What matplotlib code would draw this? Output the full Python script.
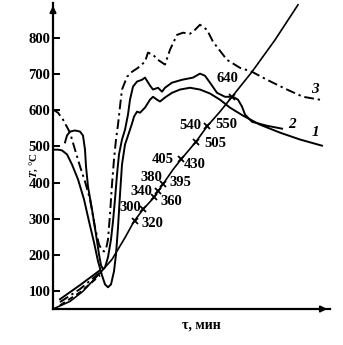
import matplotlib
matplotlib.use("Agg")
import matplotlib.pyplot as plt
import numpy as np

plt.rcParams['font.family'] = ['Liberation Serif', 'DejaVu Serif']
plt.rcParams['font.weight'] = 'bold'
plt.rcParams['mathtext.fontset'] = 'stix'

# curve 1 (solid, starts ~490, deep dip)
t1 = [0, 5, 9, 14, 19, 25, 31, 36, 41, 45, 49, 52, 55, 58, 61, 63, 65, 67, 69, 72, 76, 79,
      81, 84, 87, 92, 97, 100, 104, 107, 112, 119, 127, 137, 147, 157, 167, 177, 190, 207,
      227, 247, 269]
T1 = [491, 491, 489, 478, 450, 409, 354, 293, 235, 183, 144, 119, 111, 119, 155, 202, 276,
      367, 450, 505, 538, 563, 582, 596, 593, 607, 629, 637, 629, 624, 635, 648, 657, 662,
      657, 646, 629, 607, 585, 560, 538, 519, 502]

# curve 2 (solid, hump at start)
t2 = [12, 14, 17, 22, 27, 30, 32, 33, 35, 39, 43, 46, 48, 50, 52, 55, 58, 60, 62, 64, 66,
      69, 72, 75, 77, 80, 84, 89, 92, 97, 100, 105, 109, 112, 119, 129, 140, 147, 152, 157,
      164, 172, 180, 185, 189, 192, 199, 214, 229]
T2 = [511, 530, 541, 544, 541, 530, 491, 445, 389, 326, 257, 202, 172, 161, 166, 194, 243,
      293, 354, 422, 478, 519, 546, 588, 629, 665, 679, 684, 690, 668, 657, 662, 651, 662,
      676, 684, 690, 701, 695, 676, 648, 637, 637, 629, 610, 588, 568, 557, 549]

# curve 3 (dash-dot)
t3 = [0, 5, 10, 17, 22, 27, 32, 37, 42, 46, 49, 51, 53, 55, 57, 59, 61, 63, 65, 67, 69, 74,
      79, 85, 92, 95, 100, 105, 112, 117, 124, 130, 137, 142, 147, 154, 160, 174, 187, 199,
      214, 234, 250, 267]
T3 = [602, 593, 574, 538, 491, 445, 403, 354, 276, 229, 213, 210, 216, 243, 312, 395, 464,
      519, 560, 610, 657, 692, 706, 717, 734, 759, 753, 739, 726, 767, 808, 814, 811, 822,
      836, 822, 789, 739, 717, 706, 684, 657, 637, 629]

# heating line with marked points
heat_t = [0, 17, 30, 47, 59, 72, 81, 90, 100, 109, 120, 128, 143, 154, 167, 179, 199, 222, 245]
heat_T = [51, 72, 100, 150, 188, 248, 293, 326, 356, 392, 436, 464, 513, 555, 596, 637, 706,
          794, 891]

# initial low-temperature branches
band_t = [7, 27, 47]
band_solid = [78, 117, 158]
band_dashdot = [70, 106, 152]
band_dashed = [61, 97, 144]

cross_t = [81.5, 90, 101, 105, 110, 128, 143, 154, 179]
mark_labels = ['640', '540', '550', '505', '405', '430', '380', '395', '340', '360', '300', '320']
mark_pos = [(174, 687), (137, 557), (173, 560), (162, 508), (110, 464), (142, 450),
            (98, 414), (127, 400), (88, 376), (118, 348), (77, 332), (99, 287)]

yticks = [100, 200, 300, 400, 500, 600, 700, 800]

fig = plt.figure(figsize=(3.43, 3.45), dpi=100)
ax = fig.add_axes([53 / 343, 1 - 309 / 345, 277 / 343, 306 / 345])

lw = 1.4
ax.plot(t1, T1, color='k', lw=lw, solid_joinstyle='round')
ax.plot(t2, T2, color='k', lw=lw, solid_joinstyle='round')
ax.plot(t3, T3, color='k', lw=lw, linestyle=(0, (5, 2, 1.2, 2)))
ax.plot(heat_t, heat_T, color='k', lw=1.2, solid_joinstyle='round')

ax.plot(band_t, band_solid, color='k', lw=lw)
ax.plot(band_t, band_dashdot, color='k', lw=lw, linestyle=(0, (5, 2, 1.2, 2)))
ax.plot(band_t, band_dashed, color='k', lw=lw, linestyle=(0, (3, 2)))

cross_T = np.interp(cross_t, heat_t, heat_T)
ax.plot(cross_t, cross_T, 'x', color='k', ms=5, mew=1.3)

for lab, (x, y) in zip(mark_labels, mark_pos):
    ax.text(x, y, lab, fontsize=10.5, ha='center', va='center')

ax.text(262, 538, '1', fontsize=11, style='italic', ha='center', va='center')
ax.text(239, 560, '2', fontsize=11, style='italic', ha='center', va='center')
ax.text(262, 657, '3', fontsize=11, style='italic', ha='center', va='center')

ax.set_xlim(0, 277)
ax.set_ylim(51, 896)
ax.set_xticks([])
ax.set_yticks(yticks)
ax.set_yticklabels([str(v) for v in yticks], fontsize=10.5)
ax.tick_params(axis='y', direction='in', length=5, width=1.4, pad=2)

for s in ['top', 'right']:
    ax.spines[s].set_visible(False)
for s in ['left', 'bottom']:
    ax.spines[s].set_linewidth(1.6)

ax.annotate('', xy=(0, 1.0), xytext=(0, 0.96), xycoords='axes fraction',
            arrowprops=dict(arrowstyle='-|>', color='k', lw=1.5, mutation_scale=9))
ax.annotate('', xy=(1.0, 0), xytext=(0.96, 0), xycoords='axes fraction',
            arrowprops=dict(arrowstyle='-|>', color='k', lw=1.5, mutation_scale=9))

ax.text(-0.068, 0.469, '$T$, °C', transform=ax.transAxes, rotation=90,
        fontsize=8, ha='center', va='center')
ax.text(0.534, -0.052, 'τ, мин', transform=ax.transAxes,
        fontsize=10, ha='center', va='center')

fig.savefig('out.png', dpi=100)
